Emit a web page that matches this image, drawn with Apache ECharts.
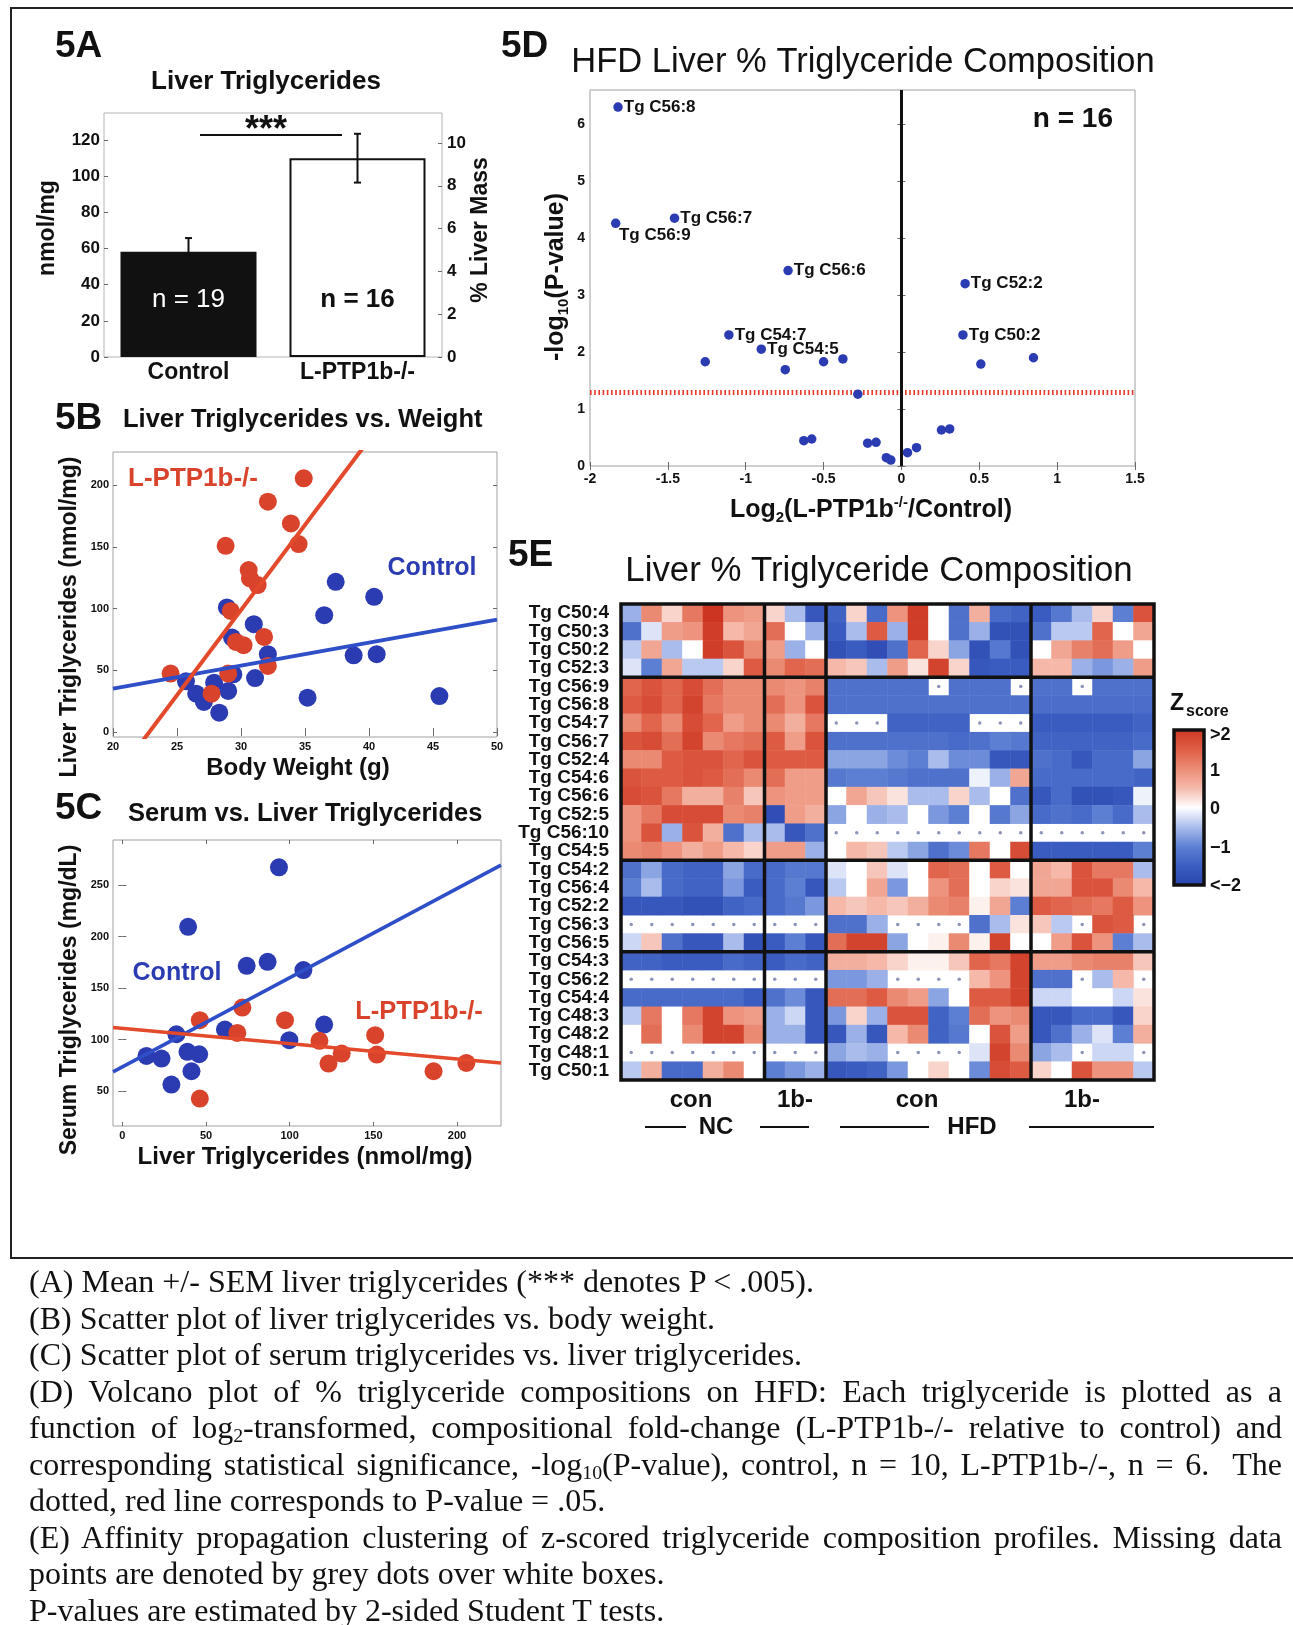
<!DOCTYPE html>
<html>
<head>
<meta charset="utf-8">
<script src="https://cdn.jsdelivr.net/npm/echarts@6/dist/echarts.min.js"></script>
<style>
  html, body { margin: 0; padding: 0; background: #fff; }
  #chart { position: absolute; left: 0; top: 0; width: 1293px; height: 1265px; }
  #legend { position: absolute; left: 29px; top: 1263px; width: 1253px; color: #111;
    font-family: 'Liberation Serif', 'Times New Roman', serif; font-size: 32px; line-height: 36.5px; }
  #legend div { white-space: nowrap; height: 36.5px; overflow: hidden; }
  #legend div.j { text-align: justify; text-align-last: justify; white-space: normal; }
  #legend sub { font-size: 0.62em; vertical-align: -0.22em; line-height: 0; }
</style>
</head>
<body>
<div id="chart"></div>
<div id="legend">
  <div>(A) Mean +/- SEM liver triglycerides (*** denotes P &lt; .005).</div>
  <div>(B) Scatter plot of liver triglycerides vs. body weight.</div>
  <div>(C) Scatter plot of serum triglycerides vs. liver triglycerides.</div>
  <div class="j">(D) Volcano plot of % triglyceride compositions on HFD: Each triglyceride is plotted as a</div>
  <div class="j">function of log<sub>2</sub>-transformed, compositional fold-change (L-PTP1b-/- relative to control) and</div>
  <div class="j">corresponding statistical significance, -log<sub>10</sub>(P-value), control, n = 10, L-PTP1b-/-, n = 6.&nbsp; The</div>
  <div>dotted, red line corresponds to P-value = .05.</div>
  <div class="j">(E) Affinity propagation clustering of z-scored triglyceride composition profiles. Missing data</div>
  <div>points are denoted by grey dots over white boxes.</div>
  <div>P-values are estimated by 2-sided Student T tests.</div>
</div>
<script>
// 5A - liver triglycerides (mean +/- SEM)
var groups = ['Control', 'L-PTP1b-/-'];
var tgMean = [58.3, 110.0];
var tgSem = [7.5, 13.5];
var groupN = ['n = 19', 'n = 16'];
var tgTicksA = [0, 20, 40, 60, 80, 100, 120];
var massTicks = [0, 2, 4, 6, 8, 10];

// 5B - liver TG vs body weight
var bwCtrl = [28.9, 31.0, 29.3, 37.4, 40.4, 36.5, 38.8, 40.6, 32.1, 31.1, 29.4, 25.7, 26.5, 27.1, 27.9, 29.0, 28.3, 35.2, 45.5];
var tgCtrl = [101, 87.4, 76.6, 121.8, 109.6, 94.7, 62.2, 63.1, 63.1, 43.8, 46.8, 41.1, 31.1, 24.4, 40, 33.3, 15.7, 27.9, 29.2];
var bwKo = [34.9, 32.1, 33.9, 34.5, 28.8, 30.6, 30.7, 31.3, 29.2, 29.6, 30.2, 31.8, 32.1, 24.5, 29.0, 27.7];
var tgKo = [205.7, 186.7, 169.1, 152.4, 151, 131.3, 124.5, 119.1, 98.2, 73.1, 70.4, 77.1, 53.6, 47.4, 47.4, 31.1];
var fitBCtrl = [1.864, -2.08];   // slope, intercept
var fitBKo = [13.8, -315.1];
var bwTicks = [20, 25, 30, 35, 40, 45, 50];
var tgTicksB = [0, 50, 100, 150, 200];

// 5C - serum TG vs liver TG
var liverCtrl = [93.6, 39.3, 74.3, 86.8, 108.2, 120.6, 32.3, 61.3, 99.8, 14.4, 23.4, 38.9, 45.9, 41.3, 29.3];
var serumCtrl = [267.2, 209.5, 171.7, 175.6, 167.5, 114.7, 105.3, 109.9, 99.5, 84.3, 81.7, 88.2, 85.9, 69.4, 56.5];
var liverKo = [46.3, 71.7, 68.7, 97.2, 117.8, 123.2, 131.1, 151.1, 152.1, 186, 205.6, 46.3];
var serumKo = [118.9, 131.2, 106.6, 118.9, 98.9, 76.9, 86.6, 104.4, 85.6, 69.4, 77.5, 42.9];
var fitCCtrl = [0.865, 73.6];
var fitCKo = [-0.148, 111.0];
var liverTicks = [0, 50, 100, 150, 200];
var serumTicks = [50, 100, 150, 200, 250];

// 5D - volcano plot
var log2fc = [-1.82, -1.835, -1.457, -0.728, 0.409, -1.108, -0.90, 0.395, -1.26, -0.746, -0.50, -0.376, 0.51,
  0.848, -0.28, -0.627, -0.576, -0.217, -0.163, -0.097, -0.068, 0.039, 0.097, 0.257, 0.31];
var nlogp = [6.30, 4.26, 4.35, 3.43, 3.20, 2.30, 2.05, 2.30, 1.83, 1.69, 1.83, 1.88, 1.79,
  1.90, 1.26, 0.445, 0.474, 0.40, 0.416, 0.146, 0.105, 0.234, 0.322, 0.632, 0.65];
var volcanoNames = ['Tg C56:8', 'Tg C56:9', 'Tg C56:7', 'Tg C56:6', 'Tg C52:2', 'Tg C54:7', 'Tg C54:5', 'Tg C50:2'];
var pCut = 0.05;
var fcTicks = [-2, -1.5, -1, -0.5, 0, 0.5, 1, 1.5];
var pTicks = [0, 1, 2, 3, 4, 5, 6];

// 5E - z-scored composition heatmap (null = missing)
var rowNames = ['Tg C50:4', 'Tg C50:3', 'Tg C50:2', 'Tg C52:3', 'Tg C56:9', 'Tg C56:8', 'Tg C54:7', 'Tg C56:7',
  'Tg C52:4', 'Tg C54:6', 'Tg C56:6', 'Tg C52:5', 'Tg C56:10', 'Tg C54:5', 'Tg C54:2', 'Tg C56:4', 'Tg C52:2',
  'Tg C56:3', 'Tg C56:5', 'Tg C54:3', 'Tg C56:2', 'Tg C54:4', 'Tg C48:3', 'Tg C48:2', 'Tg C48:1', 'Tg C50:1'];
var colGroups = [7, 3, 10, 6];
var rowGroups = [4, 10, 5, 7];
var groupLabels = ['con', '1b-', 'con', '1b-'];
var dietLabels = ['NC', 'HFD'];
var _ = null;
var zMatrix = [
  [-0.6, 1.0, 0.3, 1.2, 2.0, 0.9, 0.8, 0.3, -0.5, -1.6, -1.4, 0.3, -1.3, 0.9, 1.9, 0, -1.2, 0.6, -1.3, -1.4, -1.5, -1.1, -0.5, 0.3, -1.0, 1.6],
  [-1.2, -0.2, 0.8, 0.9, 1.9, 0.5, 0.7, 1.3, 0, -0.6, -1.5, -0.5, 1.5, -0.6, 1.9, 0, -1.2, -0.6, -1.7, -1.7, -1.2, -0.4, -0.4, 1.4, 0, 0.7],
  [-0.4, 0.7, -0.5, 0, 1.9, 1.6, 1.0, 0.8, -0.6, 0, -1.7, -1.5, -1.8, -1.2, 1.4, 0.3, -0.7, -1.7, -1.1, -1.7, 0, 0.7, 1.1, 1.3, 0.8, 0],
  [-0.2, -1.0, 0.7, -0.4, -0.4, 0.3, 1.5, 1.0, 1.4, 1.3, 0.5, 0.4, -0.5, 0.8, 0.2, 1.8, 0.3, -1.6, -1.5, -1.5, 0.5, 0.5, -0.6, -0.8, -0.6, 0.8],
  [1.4, 1.6, 1.4, 1.7, 1.3, 1.0, 1.0, 1.0, 0.9, 1.1, -1.2, -1.2, -1.2, -1.2, -1.2, _, -1.2, -1.2, -1.2, _, -1.2, -1.2, _, -1.2, -1.2, -1.2],
  [1.5, 1.7, 1.4, 1.8, 1.2, 1.0, 1.0, 1.3, 0.9, 1.6, -1.2, -1.2, -1.2, -1.2, -1.2, -1.2, -1.2, -1.2, -1.2, -1.2, -1.25, -1.25, -1.25, -1.25, -1.25, -1.25],
  [1.0, 1.4, 1.0, 1.7, 1.4, 0.8, 1.0, 1.0, 0.6, 1.2, _, _, _, -1.4, -1.4, -1.4, -1.4, _, _, _, -1.5, -1.5, -1.5, -1.5, -1.5, -1.4],
  [1.6, 1.7, 1.3, 1.8, 1.0, 1.2, 1.3, 1.5, 0.8, 1.6, -1.2, -1.2, -1.2, -1.2, -1.2, -1.2, -1.3, -1.2, -1.0, -1.1, -1.4, -1.4, -1.4, -1.4, -1.4, -1.3],
  [1.0, 1.0, 1.5, 1.6, 1.6, 1.4, 1.6, 1.5, 1.5, 1.5, -0.7, -0.7, -0.7, -0.9, -1.0, -0.5, -0.9, -0.9, -1.6, -1.6, -1.2, -1.3, -1.6, -1.3, -1.3, -0.7],
  [1.6, 1.5, 1.5, 1.6, 1.5, 1.3, 1.0, 1.3, 0.8, 0.8, -1.1, -1.0, -1.0, -1.1, -1.2, -1.2, -1.2, -0.1, -0.6, 0.7, -1.3, -1.3, -1.3, -1.3, -1.3, -1.4],
  [1.7, 1.6, 1.2, 0.6, 0.6, 1.1, 0.4, 0.9, 0.8, 0.8, 0, 0.7, 0.4, 0.2, -0.5, -0.5, 0.3, -0.5, 0, -1.2, -1.6, -1.3, -1.7, -1.7, -1.6, -0.1],
  [0.9, 1.2, 1.7, 1.7, 1.7, 1.0, 1.1, -1.8, 0.8, 0.6, -0.7, 0, -0.6, -0.5, 0, -0.8, -1.0, 0, -1.1, -0.7, -1.3, -1.2, -1.3, -1.0, -1.3, -0.5],
  [0.9, 1.6, -0.6, 1.6, 0.6, -1.2, -0.5, -0.5, -1.6, -1.2, _, _, _, _, _, _, _, _, _, _, _, _, _, _, _, _],
  [1.0, 1.1, 0.9, 0.6, 0.8, 0.5, 0.3, 0.8, 0.8, -0.6, 0, 0.5, 0.4, -0.4, -0.7, -1.2, -0.9, 1.2, 0, 1.7, -1.5, -1.5, -1.5, -1.5, -1.5, -1.0],
  [-1.2, -0.7, -1.3, -1.4, -1.4, -0.7, -1.3, -1.3, -1.1, -1.1, -0.2, 0, 0.4, -0.2, 0, 1.4, 1.3, 0, 1.5, 0, 0.7, 0.5, 1.6, 1.2, 1.2, -0.5],
  [-1.0, -0.5, -1.3, -1.4, -1.4, -0.8, -1.5, -1.3, -1.0, -1.6, -0.4, 0, 0.7, -0.8, 0, 0.9, 1.3, 0, 0.3, 0.2, 0.7, 0.7, 1.6, 1.6, 1.0, 0.5],
  [-1.6, -1.6, -1.6, -1.7, -1.7, -1.4, -1.3, -1.3, -1.1, -0.8, 0.5, 0.4, 0.5, 0.4, 0.6, 1.0, 1.1, 0.1, 0.7, -1.0, 1.5, 1.4, 1.3, 1.2, 1.5, 0.9],
  [_, _, _, _, _, _, _, _, _, _, -1.2, -1.2, -0.6, _, _, _, _, -1.2, -0.5, 0.2, 0.4, -0.4, _, 1.6, 1.5, _],
  [-0.3, 0.4, -1.2, -1.6, -1.6, -0.5, -1.7, -1.5, -1.0, -1.6, 1.3, 1.8, 1.8, -0.7, 0, 0.1, 1.0, 0.1, 1.8, 0, 0, 0.8, 1.6, 0.9, -1.0, -0.5],
  [-1.4, -1.4, -1.5, -1.5, -1.5, -1.3, -1.4, -1.5, -1.3, -1.4, 0.6, 0.6, 0.5, 0.3, 0.1, 0.1, 0.4, 1.4, 1.2, 1.8, 0.8, 0.8, 1.0, 1.1, 1.1, 0.4],
  [_, _, _, _, _, _, _, _, _, _, -0.8, -0.8, -0.6, _, _, _, _, 0.5, 0.9, 1.8, -1.2, -1.2, _, -0.5, 0.5, _],
  [-1.3, -1.3, -1.3, -1.3, -1.3, -1.3, -1.5, -1.2, -0.9, -1.6, 1.3, 1.3, 1.5, 1.0, 0.8, -0.7, 0, 1.5, 1.5, 1.8, -0.3, -0.3, 0, 0, -0.3, 0.2],
  [-0.4, 1.2, 0, 1.2, 1.8, 0.9, 0.8, -0.6, -0.3, -1.6, -0.8, 0.3, -0.6, 1.6, 1.6, -1.4, -1.0, 1.3, 0.9, 1.0, -1.6, -1.6, -1.3, -1.3, -1.6, 0.3],
  [0, 1.3, 0, 1.0, 1.8, 1.8, 1.0, -0.6, -0.6, -1.6, -1.6, -0.6, -1.6, 0.5, 1.0, -1.4, -1.1, 0, 1.6, 0.8, -1.6, -1.2, -0.6, -0.2, -1.0, 0.6],
  [_, _, _, _, _, _, _, _, _, _, -0.7, -0.5, -0.6, _, _, _, _, -0.2, 1.8, 1.0, -0.7, -0.5, _, -0.3, -0.3, _],
  [-0.4, 0.6, -1.3, -1.3, 0.6, 1.0, 0, -1.0, -0.8, -0.6, -1.6, -1.5, -1.4, -0.8, 0, 0.3, 0, -0.9, 1.7, 1.5, 0.3, 0, 1.6, 0.9, 0.9, -0.4]
];
var zColors = ['#2944ad', '#3a5cc0', '#5d7fd3', '#a9bcec', '#ffffff', '#f5b8a9', '#eb8a73', '#de5b43', '#cc3522'];

var FONT = 'Liberation Sans';
var BLUE = '#2b3bb2', RED = '#d9432c', BLUE_LINE = '#2f4fc8', RED_LINE = '#e3492b';

var chart = echarts.init(document.getElementById('chart'));

// heatmap layout (pixels)
var E = { left: 621, top: 604, width: 533, height: 476 };
var nCols = zMatrix[0].length, nRows = rowNames.length;
var colIds = zMatrix[0].map(function (v, i) { return String(i + 1); });

var heat = [], missing = [];
zMatrix.forEach(function (row, r) {
  row.forEach(function (v, c) {
    if (v === null) missing.push([c, r]); else heat.push([c, r, v]);
  });
});

function fitLine(fit, x0, x1) {
  return [[x0, fit[0] * x0 + fit[1]], [x1, fit[0] * x1 + fit[1]]];
}
function pairs(xs, ys) { return xs.map(function (x, i) { return [x, ys[i]]; }); }

// value axis, matlab style: box from grid border, small inside ticks
function vAxis(grid, min, max, ticks, pos, labels, extra) {
  var a = {
    type: 'value', gridIndex: grid, min: min, max: max, position: pos,
    axisLine: { show: false }, splitLine: { show: false },
    axisTick: { show: true, inside: true, length: 4, customValues: ticks, lineStyle: { color: '#6a6a6a', width: 1 } },
    axisLabel: { show: labels, customValues: ticks, fontSize: 11, fontWeight: 'bold', color: '#111', margin: 4 }
  };
  if (extra) {
    if (extra.label) Object.assign(a.axisLabel, extra.label);
  }
  return a;
}

function errorBar(params, api) {
  var hi = api.coord([api.value(0), api.value(2)]);
  var lo = api.coord([api.value(0), api.value(1)]);
  var st = { stroke: '#111', lineWidth: 2 };
  var cap = 3.5;
  return { type: 'group', children: [
    { type: 'line', shape: { x1: hi[0], y1: hi[1], x2: lo[0], y2: lo[1] }, style: st },
    { type: 'line', shape: { x1: hi[0] - cap, y1: hi[1], x2: hi[0] + cap, y2: hi[1] }, style: st },
    { type: 'line', shape: { x1: lo[0] - cap, y1: lo[1], x2: lo[0] + cap, y2: lo[1] }, style: st }
  ] };
}

function txt(x, y, text, size, o) {
  o = o || {};
  return { type: 'text', x: x, y: y, rotation: o.rot || 0, z: 100, silent: true,
    style: { text: text, fontFamily: FONT, fontSize: size, fontWeight: o.weight || 'bold', fill: o.color || '#111',
      align: o.align || 'center', verticalAlign: 'middle', rich: o.rich } };
}
function seg(x1, y1, x2, y2, w, color) {
  return { type: 'line', z: 100, silent: true, shape: { x1: x1, y1: y1, x2: x2, y2: y2 },
    style: { stroke: color || '#111', lineWidth: w } };
}

var graphics = [];
// outer frame
graphics.push({ type: 'polyline', z: 100, silent: true, shape: { points: [[1293, 8], [11, 8], [11, 1258], [1293, 1258]] },
  style: { stroke: '#222', lineWidth: 2, fill: null } });

// 5A
graphics.push(txt(55, 47, '5A', 37, { align: 'left' }));
graphics.push(txt(266, 82, 'Liver Triglycerides', 26));
graphics.push(txt(48, 228, 'nmol/mg', 23, { rot: Math.PI / 2 }));
graphics.push(txt(481, 230, '% Liver Mass', 23, { rot: Math.PI / 2 }));
graphics.push(seg(200, 135, 342, 135, 2));
graphics.push(txt(266, 131, '***', 36));

// 5B
graphics.push(txt(55, 419, '5B', 37, { align: 'left' }));
graphics.push(txt(123, 420, 'Liver Triglycerides vs. Weight', 25.5, { align: 'left' }));
graphics.push(txt(70, 617, 'Liver Triglycerides (nmol/mg)', 23, { rot: Math.PI / 2 }));
graphics.push(txt(298, 768, 'Body Weight (g)', 24));
graphics.push(txt(193, 479, 'L-PTP1b-/-', 26, { color: RED }));
graphics.push(txt(432, 568, 'Control', 25, { color: BLUE }));

// 5C
graphics.push(txt(55, 809, '5C', 37, { align: 'left' }));
graphics.push(txt(128, 814, 'Serum vs. Liver Triglycerides', 25.5, { align: 'left' }));
graphics.push(txt(70, 1000, 'Serum Triglycerides (mg/dL)', 23, { rot: Math.PI / 2 }));
graphics.push(txt(305, 1157, 'Liver Triglycerides (nmol/mg)', 24));
graphics.push(txt(177, 973, 'Control', 25, { color: BLUE }));
graphics.push(txt(419, 1012, 'L-PTP1b-/-', 25.5, { color: RED }));

// 5D
graphics.push(txt(501, 47, '5D', 37, { align: 'left' }));
graphics.push(txt(863, 62, 'HFD Liver % Triglyceride Composition', 34.5, { weight: 'normal' }));
graphics.push(txt(1113, 119, 'n = 16', 28, { align: 'right' }));
var richAx = {
  b: { fontFamily: FONT, fontSize: 25, fontWeight: 'bold', lineHeight: 30, fill: '#111' },
  sub: { fontFamily: FONT, fontSize: 15, fontWeight: 'bold', lineHeight: 16, verticalAlign: 'bottom', fill: '#111' },
  sup: { fontFamily: FONT, fontSize: 15, fontWeight: 'bold', lineHeight: 16, verticalAlign: 'top', fill: '#111' }
};
graphics.push(txt(871, 510, '{b|Log}{sub|2}{b|(L-PTP1b}{sup|-/-}{b|/Control)}', 25, { rich: richAx }));
graphics.push(txt(556, 277, '{b|-log}{sub|10}{b|(P-value)}', 25, { rot: Math.PI / 2, rich: richAx }));

// 5E
graphics.push(txt(508, 556, '5E', 37, { align: 'left' }));
graphics.push(txt(879, 571, 'Liver % Triglyceride Composition', 34.8, { weight: 'normal' }));
var cw = E.width / nCols, rh = E.height / nRows;
var acc = 0;
colGroups.slice(0, -1).forEach(function (g) {
  acc += g;
  graphics.push(seg(E.left + acc * cw, E.top, E.left + acc * cw, E.top + E.height, 3.5));
});
acc = 0;
rowGroups.slice(0, -1).forEach(function (g) {
  acc += g;
  graphics.push(seg(E.left, E.top + acc * rh, E.left + E.width, E.top + acc * rh, 3.5));
});
graphics.push({ type: 'rect', z: 100, silent: true, shape: { x: E.left, y: E.top, width: E.width, height: E.height },
  style: { stroke: '#111', lineWidth: 3.5, fill: null } });
var groupX = [691, 795, 917, 1082];
groupLabels.forEach(function (t, i) { graphics.push(txt(groupX[i], 1100, t, 24)); });
graphics.push(txt(716, 1127, dietLabels[0], 24));
graphics.push(txt(972, 1127, dietLabels[1], 24));
graphics.push(seg(645, 1127, 686, 1127, 2));
graphics.push(seg(760, 1127, 809, 1127, 2));
graphics.push(seg(840, 1127, 929, 1127, 2));
graphics.push(seg(1029, 1127, 1154, 1127, 2));

// colour bar
var CB = { x: 1174, y: 730, w: 30, h: 155 };
var stops = zColors.slice().reverse().map(function (c, i, arr) { return { offset: i / (arr.length - 1), color: c }; });
graphics.push({ type: 'rect', z: 99, silent: true, shape: { x: CB.x, y: CB.y, width: CB.w, height: CB.h },
  style: { fill: new echarts.graphic.LinearGradient(0, 0, 0, 1, stops), stroke: '#111', lineWidth: 3.5 } });
var cbLabels = ['>2', '1', '0', '\u22121', '<\u22122'];
var cbY = [735, 771, 809, 848, 886];
cbLabels.forEach(function (t, i) { graphics.push(txt(CB.x + 36, cbY[i], t, 18, { align: 'left' })); });
graphics.push(txt(1170, 704, 'Z', 23, { align: 'left' }));
graphics.push(txt(1186, 712, 'score', 16, { align: 'left' }));

var option = {
  animation: false,
  backgroundColor: '#fff',
  textStyle: { fontFamily: FONT },
  grid: [
    { left: 104, top: 113, width: 338, height: 244, show: true, borderColor: '#b5b5b5', borderWidth: 1 },
    { left: 113, top: 452, width: 384, height: 285, show: true, borderColor: '#a0a0a0', borderWidth: 1 },
    { left: 113, top: 840, width: 388, height: 286, show: true, borderColor: '#a0a0a0', borderWidth: 1 },
    { left: 590, top: 90, width: 545, height: 376, show: true, borderColor: '#a0a0a0', borderWidth: 1 },
    { left: E.left, top: E.top, width: E.width, height: E.height, show: true, backgroundColor: '#fff', borderWidth: 0 }
  ],
  xAxis: [
    { type: 'category', gridIndex: 0, data: groups, axisLine: { show: false }, axisTick: { show: false },
      axisLabel: { fontSize: 23, fontWeight: 'bold', color: '#111', margin: 4 } },
    vAxis(1, 20, 50, bwTicks, 'bottom', true),
    vAxis(1, 20, 50, bwTicks, 'top', false),
    vAxis(2, -5.6, 226.3, liverTicks, 'bottom', true),
    vAxis(2, -5.6, 226.3, liverTicks, 'top', false),
    vAxis(3, -2, 1.5, fcTicks, 'bottom', true, { label: { fontSize: 14, margin: 6 } }),
    vAxis(3, -2, 1.5, fcTicks, 'top', false),
    { type: 'category', gridIndex: 4, data: colIds, position: 'bottom', axisLine: { show: false },
      axisLabel: { show: false }, splitLine: { show: false },
      axisTick: { inside: true, alignWithLabel: true, interval: 0, length: 5, lineStyle: { color: '#111', width: 3 } } },
    { type: 'category', gridIndex: 4, data: colIds, position: 'top', axisLine: { show: false },
      axisLabel: { show: false }, splitLine: { show: false },
      axisTick: { inside: true, alignWithLabel: true, interval: 0, length: 5, lineStyle: { color: '#111', width: 3 } } }
  ],
  yAxis: [
    vAxis(0, 0, 135, tgTicksA, 'left', true, { label: { fontSize: 17 } }),
    vAxis(0, 0, 11.4, massTicks, 'right', true, { label: { fontSize: 17, margin: 5 } }),
    vAxis(1, -4, 227, tgTicksB, 'left', true),
    vAxis(1, -4, 227, tgTicksB, 'right', false),
    vAxis(2, 16.3, 293.7, serumTicks, 'left', true),
    vAxis(2, 16.3, 293.7, serumTicks, 'right', false),
    vAxis(3, 0, 6.6, pTicks, 'left', true, { label: { fontSize: 14, margin: 5 } }),
    vAxis(3, 0, 6.6, pTicks, 'right', false),
    { type: 'category', gridIndex: 4, data: rowNames, inverse: true, position: 'left', axisLine: { show: false },
      splitLine: { show: false },
      axisLabel: { interval: 0, fontSize: 19, fontWeight: 'bold', color: '#111', margin: 12 },
      axisTick: { inside: true, alignWithLabel: true, interval: 0, length: 5, lineStyle: { color: '#111', width: 3 } } },
    { type: 'category', gridIndex: 4, data: rowNames, inverse: true, position: 'right', axisLine: { show: false },
      splitLine: { show: false }, axisLabel: { show: false },
      axisTick: { inside: true, alignWithLabel: true, interval: 0, length: 5, lineStyle: { color: '#111', width: 3 } } }
  ],
  visualMap: {
    type: 'continuous', show: false, min: -2, max: 2, seriesIndex: 11,
    inRange: { color: zColors }
  },
  series: [
    { type: 'bar', xAxisIndex: 0, yAxisIndex: 0, barWidth: 136, z: 2,
      data: tgMean.map(function (v, i) {
        return {
          value: v,
          itemStyle: i === 0 ? { color: '#111' } : { color: '#fff', borderColor: '#111', borderWidth: 2 },
          label: { show: true, position: 'insideBottom', distance: 44, formatter: groupN[i], fontSize: 26,
            fontFamily: FONT, fontWeight: i === 0 ? 'normal' : 'bold', color: i === 0 ? '#fff' : '#111' }
        };
      }) },
    { type: 'custom', xAxisIndex: 0, yAxisIndex: 0, z: 5, renderItem: errorBar,
      data: tgMean.map(function (m, i) { return [i, m - tgSem[i], m + tgSem[i]]; }) },

    { type: 'scatter', xAxisIndex: 1, yAxisIndex: 2, symbolSize: 18, itemStyle: { color: BLUE, opacity: 1 },
      data: pairs(bwCtrl, tgCtrl) },
    { type: 'scatter', xAxisIndex: 1, yAxisIndex: 2, symbolSize: 18, itemStyle: { color: RED, opacity: 1 },
      data: pairs(bwKo, tgKo) },
    { type: 'line', xAxisIndex: 1, yAxisIndex: 2, showSymbol: false, clip: true, z: 4,
      lineStyle: { color: BLUE_LINE, width: 4 }, data: fitLine(fitBCtrl, 20, 50) },
    { type: 'line', xAxisIndex: 1, yAxisIndex: 2, showSymbol: false, clip: true, z: 4,
      lineStyle: { color: RED_LINE, width: 4 }, data: fitLine(fitBKo, 20, 50) },

    { type: 'scatter', xAxisIndex: 3, yAxisIndex: 4, symbolSize: 18, itemStyle: { color: BLUE, opacity: 1 },
      data: pairs(liverCtrl, serumCtrl) },
    { type: 'scatter', xAxisIndex: 3, yAxisIndex: 4, symbolSize: 18, itemStyle: { color: RED, opacity: 1 },
      data: pairs(liverKo, serumKo) },
    { type: 'line', xAxisIndex: 3, yAxisIndex: 4, showSymbol: false, clip: true, z: 4,
      lineStyle: { color: BLUE_LINE, width: 3.5 }, data: fitLine(fitCCtrl, -5.6, 226.3) },
    { type: 'line', xAxisIndex: 3, yAxisIndex: 4, showSymbol: false, clip: true, z: 4,
      lineStyle: { color: RED_LINE, width: 3.5 }, data: fitLine(fitCKo, -5.6, 226.3) },

    { type: 'scatter', xAxisIndex: 5, yAxisIndex: 6, symbolSize: 9.5, z: 5,
      itemStyle: { color: BLUE, opacity: 1 },
      data: log2fc.map(function (x, i) {
        var name = volcanoNames[i] || '';
        var below = name === 'Tg C56:9';
        return { value: [x, nlogp[i]], name: name,
          label: { show: !!name, position: below ? [8, 8] : 'right', distance: 1 } };
      }),
      label: { formatter: '{b}', fontSize: 17, fontWeight: 'bold', color: '#111', fontFamily: FONT },
      markLine: { silent: true, symbol: ['none', 'none'], label: { show: false }, animation: false,
        data: [
          { yAxis: -Math.log10(pCut), lineStyle: { color: '#e8392a', width: 5, type: [1.6, 2.6] } },
          { xAxis: 0, lineStyle: { color: '#111', width: 3, type: 'solid' } }
        ] } },

    { type: 'heatmap', xAxisIndex: 7, yAxisIndex: 8, data: heat, emphasis: { disabled: true } },
    { type: 'scatter', xAxisIndex: 7, yAxisIndex: 8, data: missing, symbolSize: 3.5, z: 6,
      itemStyle: { color: '#8e94b8', opacity: 1 } }
  ],
  graphic: graphics
};
chart.setOption(option);
</script>
</body>
</html>
